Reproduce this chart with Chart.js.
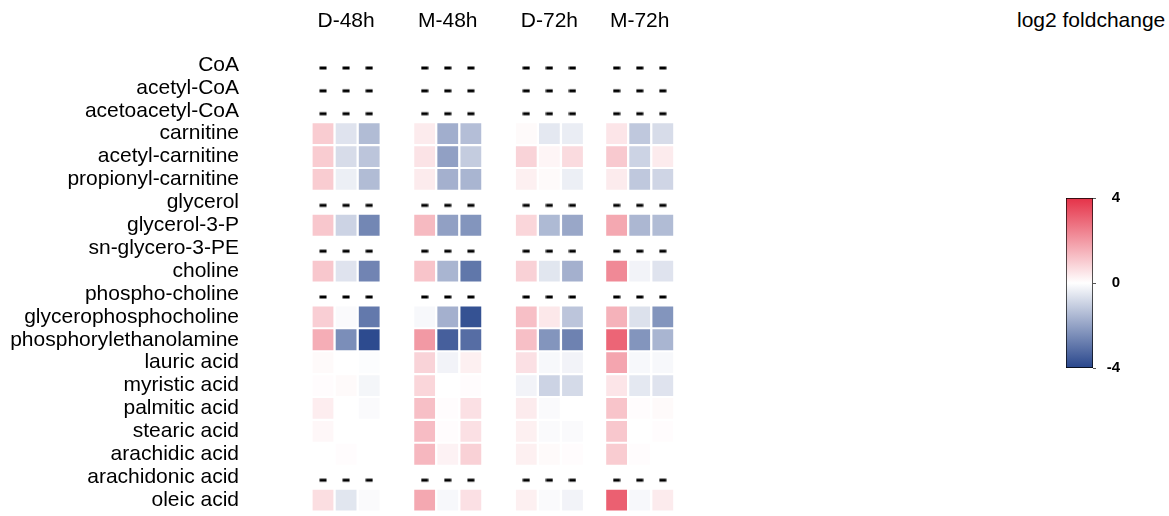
<!DOCTYPE html>
<html>
<head>
<meta charset="utf-8">
<script src="https://cdn.jsdelivr.net/npm/chart.js@4/dist/chart.umd.min.js"></script>
<style>
  html, body { margin: 0; padding: 0; background: #fff; }
  #wrap { position: relative; width: 1169px; height: 516px; overflow: hidden; }
  #heat { position: absolute; left: 0; top: 0; }
  #bar { position: absolute; left: 1040px; top: 180px; }
  #legendTitle { position: absolute; left: 1017px; top: 8px; font: 21px "Liberation Sans", Arial, sans-serif;
                 line-height: 24px; color: #000; white-space: nowrap; }
</style>
</head>
<body>
<div id="wrap">
  <canvas id="heat" width="720" height="516"></canvas>
  <div id="legendTitle">log2 foldchange</div>
  <canvas id="bar" width="80" height="210"></canvas>
</div>
<script>
/*==================== data ====================*/
const rows = ["CoA", "acetyl-CoA", "acetoacetyl-CoA", "carnitine", "acetyl-carnitine", "propionyl-carnitine",
  "glycerol", "glycerol-3-P", "sn-glycero-3-PE", "choline", "phospho-choline", "glycerophosphocholine",
  "phosphorylethanolamine", "lauric acid", "myristic acid", "palmitic acid", "stearic acid",
  "arachidic acid", "arachidonic acid", "oleic acid"];
const groups = ["D-48h", "M-48h", "D-72h", "M-72h"];
const na = [null, null, null]; // not measured -> "-"

// log2 foldchange, 3 replicates per row
const d48h = [na, na, na, [1.0, -0.6, -1.45], [1.0, -0.75, -1.25], [1.0, -0.35, -1.45], na,
  [1.1, -0.95, -2.6], na, [1.1, -0.6, -2.65], na, [0.95, -0.1, -2.9], [1.6, -2.45, -3.9],
  [0.1, 0, -0.05], [0.05, 0.1, -0.2], [0.35, 0, -0.1], [0.15, 0, 0], [0, 0.05, 0], na, [0.65, -0.55, -0.1]];
const m48h = [na, na, na, [0.4, -1.75, -1.4], [0.55, -2.05, -1.1], [0.4, -1.7, -1.6], na,
  [1.35, -2.05, -2.3], na, [1.15, -1.6, -2.95], na, [-0.15, -1.7, -3.75], [2.0, -3.45, -3.15],
  [0.85, -0.25, 0.3], [0.8, 0, 0.05], [1.25, 0.05, 0.6], [1.3, 0.05, 0.6], [1.4, 0.25, 0.9], na, [1.7, -0.15, 0.6]];
const d72h = [na, na, na, [0.1, -0.5, -0.4], [0.85, 0.2, 0.7], [0.3, 0.1, -0.35], na,
  [0.8, -1.5, -1.9], na, [0.9, -0.55, -1.7], na, [1.25, 0.45, -1.25], [1.25, -2.3, -2.7],
  [0.6, -0.15, -0.25], [-0.25, -0.95, -0.8], [0.4, -0.1, 0], [0.3, -0.1, -0.1], [0.3, 0.1, 0.05], na, [0.3, -0.1, -0.25]];
const m72h = [na, na, na, [0.5, -1.2, -0.75], [1.05, -0.95, 0.4], [0.4, -1.2, -0.9], na,
  [1.7, -1.55, -1.45], na, [2.3, -0.25, -0.6], na, [1.5, -0.65, -2.3], [3.0, -2.3, -1.6],
  [1.75, -0.15, -0.15], [0.5, -0.5, -0.6], [1.15, 0.05, 0.1], [1.1, 0, 0.05], [1.0, 0.05, 0], na, [3.1, -0.15, 0.4]];
const scaleTicks = [-4, 0, 4];

/*==================== layout / colours ====================*/
const groupPos = [0, 4.4, 8.8, 12.71]; // first column of each group, in column units
const red = [229, 50, 72], blue = [40, 70, 140];
const rgb = c => `rgb(${c.map(Math.round).join(",")})`;
function colorFor(v) {
  const t = Math.min(Math.abs(v) / scaleTicks[2], 1);
  const c = v >= 0 ? red : blue;
  return rgb(c.map(k => 255 + (k - 255) * t));
}

Chart.defaults.font.family = '"Liberation Sans", Arial, sans-serif';
Chart.defaults.color = "#000";

// little "-" marker for missing values
const dash = document.createElement("canvas");
dash.width = 8; dash.height = 12;
const dc = dash.getContext("2d");
dc.fillStyle = "#000";
dc.fillRect(0.5, 7.5, 7, 3);

const cells = [], dashes = [];
[d48h, m48h, d72h, m72h].forEach((vals, g) => vals.forEach((row, i) => row.forEach((v, r) => {
  const p = { x: groupPos[g] + r, y: i, v: v };
  (v === null ? dashes : cells).push(p);
})));

// fixed axis sizes, no extra label padding
function fixScale(size) {
  return s => {
    if (s.isHorizontal()) s.height = size; else s.width = size;
    s.paddingTop = s.paddingBottom = s.paddingLeft = s.paddingRight = 0;
  };
}

/*==================== heatmap ====================*/
new Chart(document.getElementById("heat"), {
  type: "scatter",
  data: {
    datasets: [
      { data: cells, pointStyle: "rect", pointRadius: 14.7, pointHoverRadius: 14.7, pointBorderWidth: 0,
        pointBackgroundColor: ctx => colorFor(ctx.raw.v) },
      { data: dashes, pointStyle: dash, pointRadius: 4, pointBorderWidth: 0 }
    ]
  },
  options: {
    responsive: false,
    animation: false,
    layout: { autoPadding: false, padding: { top: 0, bottom: 4.5, left: 0, right: 0 } },
    plugins: { legend: { display: false }, tooltip: { enabled: false } },
    scales: {
      x: {
        type: "linear", position: "top", min: -3.377, max: 17.186,
        grid: { display: false, drawTicks: false }, border: { display: false },
        afterFit: fixScale(53.5),
        afterBuildTicks: s => { s.ticks = groups.map((g, i) => ({ value: groupPos[i] + 1 })); },
        ticks: { autoSkip: false, maxRotation: 0, padding: 20, font: { size: 21 },
                 callback: (v, i) => groups[i] }
      },
      y: {
        type: "linear", reverse: true, min: -0.5, max: 19.5,
        grid: { display: false, drawTicks: false }, border: { display: false },
        afterFit: fixScale(245),
        afterBuildTicks: s => { s.ticks = rows.map((r, i) => ({ value: i })); },
        ticks: { autoSkip: false, padding: 6, font: { size: 21 }, callback: (v, i) => rows[i] }
      }
    }
  }
});

/*==================== colour key ====================*/
new Chart(document.getElementById("bar"), {
  type: "bar",
  data: {
    labels: [""],
    datasets: [{
      data: [[scaleTicks[0], scaleTicks[2]]],
      barPercentage: 1, categoryPercentage: 1,
      borderWidth: 1, borderColor: "#000", borderSkipped: false,
      backgroundColor: ctx => {
        const a = ctx.chart.chartArea;
        if (!a) return null;
        const g = ctx.chart.ctx.createLinearGradient(0, a.bottom, 0, a.top);
        g.addColorStop(0, rgb(blue));
        g.addColorStop(0.5, "#fff");
        g.addColorStop(1, rgb(red));
        return g;
      }
    }]
  },
  options: {
    responsive: false,
    animation: false,
    layout: { padding: { left: 26, top: 15, bottom: 22, right: 0 } },
    plugins: { legend: { display: false }, tooltip: { enabled: false } },
    scales: {
      x: { display: false },
      y: {
        position: "right", min: scaleTicks[0], max: scaleTicks[2],
        grid: { drawOnChartArea: false, drawTicks: true, tickLength: 3, color: "#555" },
        border: { display: false },
        afterBuildTicks: s => { s.ticks = scaleTicks.map(v => ({ value: v })); },
        ticks: { padding: 9, crossAlign: "far", font: { size: 15, weight: "bold" } }
      }
    }
  }
});
</script>
</body>
</html>
